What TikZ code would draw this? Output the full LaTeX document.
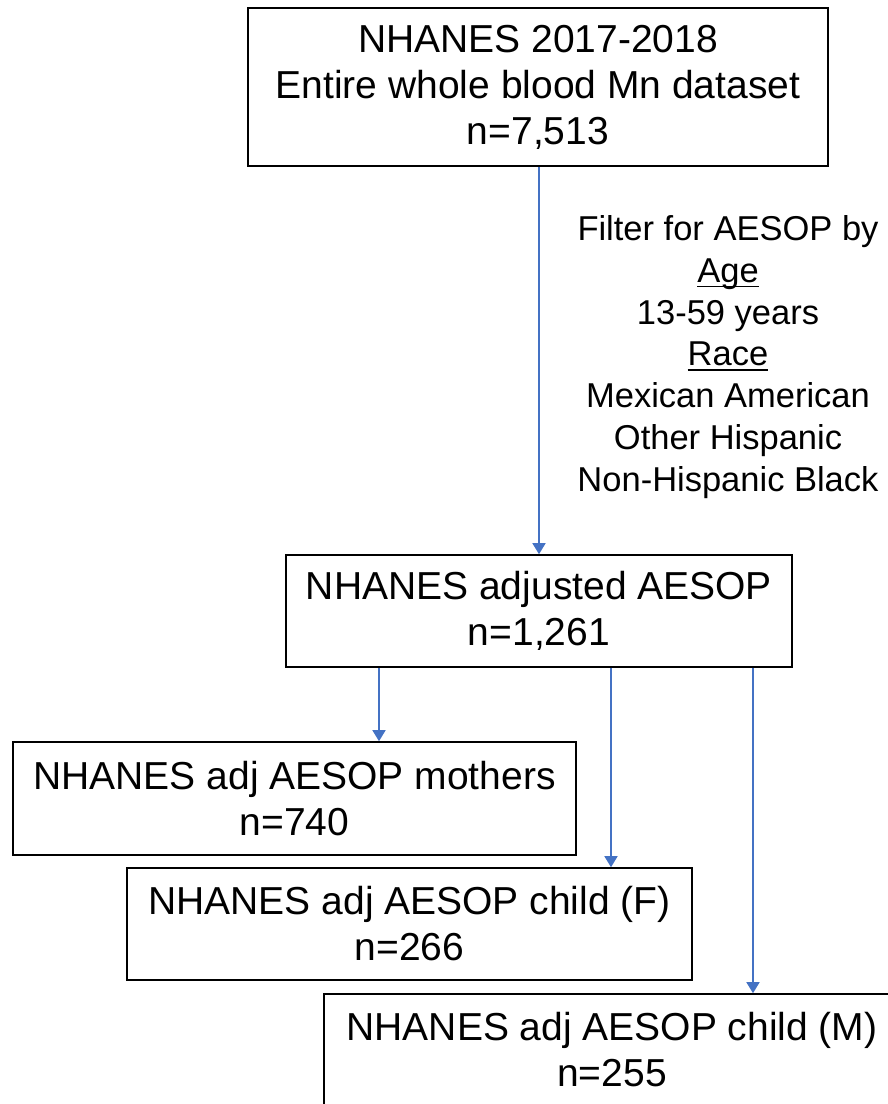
\documentclass[tikz,border=0pt]{standalone}
\usepackage{fontspec}
\setmainfont{Liberation Sans}
\usetikzlibrary{arrows.meta}
\definecolor{arrowblue}{HTML}{4472C4}
\newcommand{\myul}[1]{{\setbox0\hbox{#1}\rlap{\raisebox{-5pt}{\rule{\wd0}{1.8pt}}}\box0}}
\begin{document}
\begin{tikzpicture}[x=1pt,y=-1pt,
  box/.style={draw=black,line width=1.6pt,align=center,inner sep=0pt,
    font=\fontsize{39}{46}\selectfont},
  arr/.style={draw=arrowblue,line width=1.6pt,-{Triangle[width=13pt,length=11pt]}}]
\useasboundingbox (0,0) rectangle (888,1104);
\clip (0,0) rectangle (888,1104);
\node[box,minimum width=580pt,minimum height=158pt] (b1) at (538,87)
  {NHANES 2017-2018\\Entire whole blood Mn dataset\\n=7,513};
\node[box,minimum width=506pt,minimum height=112pt] (b2) at (539,611)
  {NHANES adjusted AESOP\\n=1,261};
\node[box,minimum width=563pt,minimum height=113pt] (b3) at (294.5,798.5)
  {NHANES adj AESOP mothers\\n=740};
\node[box,minimum width=565pt,minimum height=112pt] (b4) at (409.5,924)
  {NHANES adj AESOP child (F)\\n=266};
\node[box,minimum width=576pt,minimum height=112pt] (b5) at (612,1050)
  {NHANES adj AESOP child (M)\\n=255};
\node[align=center,inner sep=0pt,font=\fontsize{34.5}{41.8}\selectfont] (filt) at (728,357)
  {Filter for AESOP by\\\myul{Age}\\13-59 years\\\myul{Race}\\Mexican American\\Other Hispanic\\Non-Hispanic Black};
\coordinate (c1) at (379,0);
\coordinate (c2) at (611,0);
\coordinate (c3) at (753,0);
\draw[arr] (b1.south -| b2.north) -- (b2.north);
\draw[arr] (b2.south -| c1) -- (b3.north -| c1);
\draw[arr] (b2.south -| c2) -- (b4.north -| c2);
\draw[arr] (b2.south -| c3) -- (b5.north -| c3);
\end{tikzpicture}
\end{document}
